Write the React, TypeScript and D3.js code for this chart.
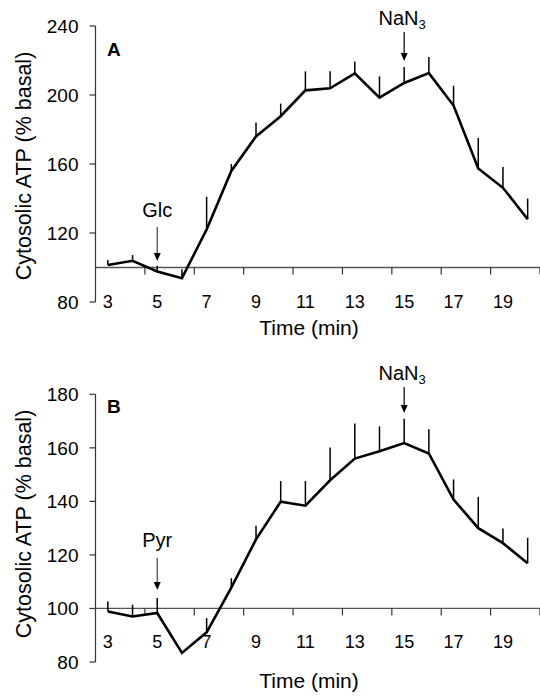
import { useEffect, useRef } from "react";
import * as d3 from "d3";

// time points (min)
const timeMin = [3, 4, 5, 6, 7, 8, 9, 10, 11, 12, 13, 14, 15, 16, 17, 18, 19, 20];
// panel A: glucose
const atpA = [101.4, 103.9, 97.7, 93.8, 122, 156, 176, 187.7, 202.7, 203.9, 212.5, 198.5, 207, 212.7, 193.9, 157.4, 146.2, 128];
const semA = [2.9, 3.3, 3.3, 5.2, 19, 4, 8, 7.3, 11, 9.8, 6.9, 12.3, 9.2, 9.3, 11.5, 17.7, 12, 11.9];
// panel B: pyruvate
const atpB = [98.9, 97, 98.3, 83.4, 91.1, 107.8, 125.8, 139.9, 138.4, 147.9, 156, 158.7, 161.8, 157.9, 140.7, 130, 124.4, 116.9];
const semB = [3.7, 4.4, 5.6, 0.6, 5.3, 3.5, 5.1, 7.7, 9.2, 12.2, 13.1, 9.3, 9.1, 9, 7.5, 11.7, 5.5, 9.5];

const xTickLabels = [3, 5, 7, 9, 11, 13, 15, 17, 19];
const xTickMarks = [4.5, 6.5, 8.5, 10.5, 12.5, 14.5, 16.5, 18.5, 20.5];
const yTicksA = [80, 120, 160, 200, 240];
const yTicksB = [80, 100, 120, 140, 160, 180];

const FONT = "Liberation Sans, Arial, sans-serif";

const App = () => {
  const svgRef = useRef(null);

  useEffect(() => {
    const svg = d3.select(svgRef.current);
    svg.selectAll("*").remove();

    const x = d3.scaleLinear().domain([2.5, 20.5]).range([95.5, 540]);

    const panel = (cfg) => {
      const { y, values, sem, ticks, letter, letterY, titleY, addLabel, addAt, addLabelY, addArrow, nanLabelY, nanArrow, xLabelY, midY } = cfg;
      const g = svg.append("g");

      // y axis
      g.append("line")
        .attr("x1", x(2.5)).attr("x2", x(2.5))
        .attr("y1", y(y.domain()[1])).attr("y2", y(y.domain()[0]))
        .attr("stroke", "#333").attr("stroke-width", 1.2);
      g.selectAll(".yt").data(ticks).join("line")
        .attr("x1", x(2.5) - 6).attr("x2", x(2.5))
        .attr("y1", (d) => y(d)).attr("y2", (d) => y(d))
        .attr("stroke", "#333").attr("stroke-width", 1.2);
      g.selectAll(".yl").data(ticks).join("text")
        .attr("x", x(2.5) - 17).attr("y", (d) => y(d)).attr("dy", "0.36em")
        .attr("text-anchor", "end").attr("font-size", 19).attr("font-family", FONT)
        .text((d) => d);

      // x axis at 100
      g.append("line")
        .attr("x1", x(2.5)).attr("x2", x(20.5))
        .attr("y1", y(100)).attr("y2", y(100))
        .attr("stroke", "#555").attr("stroke-width", 1.3);
      g.selectAll(".xt").data(xTickMarks).join("line")
        .attr("x1", (d) => x(d)).attr("x2", (d) => x(d))
        .attr("y1", y(100)).attr("y2", y(100) + 7)
        .attr("stroke", "#333").attr("stroke-width", 1.2);
      g.selectAll(".xl").data(xTickLabels).join("text")
        .attr("x", (d) => x(d)).attr("y", xLabelY)
        .attr("text-anchor", "middle").attr("font-size", 18).attr("font-family", FONT)
        .text((d) => d);

      // error bars (upper only)
      g.selectAll(".eb").data(timeMin).join("line")
        .attr("x1", (d) => x(d)).attr("x2", (d) => x(d))
        .attr("y1", (d, i) => y(values[i])).attr("y2", (d, i) => y(values[i] + sem[i]))
        .attr("stroke", "#000").attr("stroke-width", 1.5);

      // mean line
      const line = d3.line().x((d) => x(d[0])).y((d) => y(d[1]));
      g.append("path")
        .attr("d", line(timeMin.map((t, i) => [t, values[i]])))
        .attr("fill", "none").attr("stroke", "#000").attr("stroke-width", 2.6)
        .attr("stroke-linejoin", "miter");

      // panel letter
      g.append("text").attr("x", 107).attr("y", letterY)
        .attr("font-size", 19).attr("font-weight", "bold").attr("font-family", FONT)
        .text(letter);

      // axis titles
      g.append("text").attr("x", 309).attr("y", titleY)
        .attr("text-anchor", "middle").attr("font-size", 21).attr("font-family", FONT)
        .text("Time (min)");
      g.append("text")
        .attr("transform", `translate(31,${midY}) rotate(-90)`)
        .attr("text-anchor", "middle").attr("font-size", 21.5).attr("font-family", FONT)
        .text("Cytosolic ATP (% basal)");

      // arrows
      const arrow = (xc, y1, y2, color) => {
        g.append("line").attr("x1", xc).attr("x2", xc).attr("y1", y1).attr("y2", y2 - 7)
          .attr("stroke", color).attr("stroke-width", 1.2);
        g.append("path")
          .attr("d", `M${xc - 3.5},${y2 - 8} L${xc + 3.5},${y2 - 8} L${xc},${y2} Z`)
          .attr("fill", "#000");
      };
      g.append("text").attr("x", x(addAt)).attr("y", addLabelY)
        .attr("text-anchor", "middle").attr("font-size", 20).attr("font-family", FONT)
        .text(addLabel);
      arrow(x(addAt), addArrow[0], addArrow[1], "#444");

      const nan = g.append("text").attr("x", x(15) - 2).attr("y", nanLabelY)
        .attr("text-anchor", "middle").attr("font-size", 20).attr("font-family", FONT);
      nan.append("tspan").text("NaN");
      nan.append("tspan").attr("font-size", 13).attr("dy", 4).text("3");
      arrow(x(15), nanArrow[0], nanArrow[1], "#000");
    };

    panel({
      y: d3.scaleLinear().domain([80, 240]).range([302, 26]),
      values: atpA, sem: semA, ticks: yTicksA,
      letter: "A", letterY: 56, titleY: 335, xLabelY: 308, midY: 166,
      addLabel: "Glc", addAt: 5, addLabelY: 217, addArrow: [227, 261],
      nanLabelY: 25, nanArrow: [32, 61],
    });
    panel({
      y: d3.scaleLinear().domain([80, 180]).range([662, 394.3]),
      values: atpB, sem: semB, ticks: yTicksB,
      letter: "B", letterY: 413, titleY: 688, xLabelY: 648, midY: 524,
      addLabel: "Pyr", addAt: 5, addLabelY: 547, addArrow: [558, 590],
      nanLabelY: 380, nanArrow: [387, 413],
    });
  }, []);

  return (
    <svg
      ref={svgRef}
      width={540}
      height={696}
      style={{ position: "absolute", left: 0, top: 0, background: "#fff" }}
    ></svg>
  );
};

export default App;
